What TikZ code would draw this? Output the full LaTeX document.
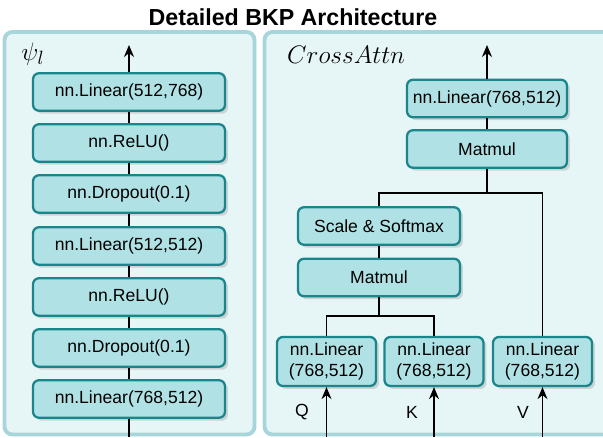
\documentclass[tikz,border=0pt]{standalone}
\usepackage{fontspec}
\setmainfont{Liberation Sans}
\usepackage{tikz}
\usetikzlibrary{arrows.meta, positioning, shadows}
\definecolor{panelFill}{RGB}{230,246,247}
\definecolor{panelLine}{RGB}{168,213,217}
\definecolor{boxFill}{RGB}{176,226,229}
\definecolor{boxLine}{RGB}{26,134,140}

\begin{document}
\begin{tikzpicture}[
  x=0.02cm, y=-0.02cm,
  >={Stealth[length=2.4mm, width=2mm]},
  layer/.style={draw=boxLine, fill=boxFill, line width=1.3pt, rounded corners=1.2mm,
    minimum height=7.5mm, inner sep=1pt, align=center, font=\fontsize{10}{11.5}\selectfont,
    drop shadow={shadow xshift=0.6mm, shadow yshift=-0.6mm, fill=black!30}},
  panel/.style={draw=panelLine, fill=panelFill, line width=2.2pt, rounded corners=1.6mm},
  link/.style={line width=0.85pt}
]
  \useasboundingbox (0,0) rectangle (603,438);
  \node[font=\fontsize{13.2}{15}\selectfont\bfseries] (title) at (293,17) {Detailed BKP Architecture};

  % --- panels ---
  \draw[panel] (4.5,32) rectangle (254.5,434.5);
  \draw[panel] (264.5,32) rectangle (612,434.5);
  \node[font=\fontsize{15}{17}\selectfont] (psiName) at (33,54) {$\psi_l$};
  \node[anchor=base west, font=\fontsize{15}{17}\selectfont] (caName) at (281,64) {$CrossAttn$};

  % --- psi_l: MLP stack ---
  \begin{scope}[every node/.append style={minimum width=3.84cm}]
    \node[layer] (psiOut)  at (129,92)  {nn.Linear(512,768)};
    \node[layer] (psiAct2) at (129,143) {nn.ReLU()};
    \node[layer] (psiDrp2) at (129,194) {nn.Dropout(0.1)};
    \node[layer] (psiMid)  at (129,246) {nn.Linear(512,512)};
    \node[layer] (psiAct1) at (129,297) {nn.ReLU()};
    \node[layer] (psiDrp1) at (129,348) {nn.Dropout(0.1)};
    \node[layer] (psiIn)   at (129,399) {nn.Linear(768,512)};
  \end{scope}
  \coordinate (psiTop) at (129,45);
  \coordinate (psiBot) at (129,437);
  \draw[link, ->] (psiOut.north) -- (psiTop);
  \draw[link] (psiOut.south) -- (psiAct2.north);
  \draw[link] (psiAct2.south) -- (psiDrp2.north);
  \draw[link] (psiDrp2.south) -- (psiMid.north);
  \draw[link] (psiMid.south) -- (psiAct1.north);
  \draw[link] (psiAct1.south) -- (psiDrp1.north);
  \draw[link] (psiDrp1.south) -- (psiIn.north);
  \draw[link] (psiBot) -- (psiIn.south);

  % --- CrossAttn ---
  \node[layer, minimum width=3.2cm]  (caOut)   at (487,98.5) {nn.Linear(768,512)};
  \node[layer, minimum width=3.2cm]  (caMatV)  at (487,149)  {Matmul};
  \node[layer, minimum width=3.24cm] (caSoft)  at (379,226)  {Scale \& Softmax};
  \node[layer, minimum width=3.24cm] (caMatQK) at (379,277.5) {Matmul};
  \node[layer, minimum width=1.98cm, minimum height=9.8mm] (projQ) at (326.5,361.5) {nn.Linear\\(768,512)};
  \node[layer, minimum width=1.98cm, minimum height=9.8mm] (projK) at (434,361.5)   {nn.Linear\\(768,512)};
  \node[layer, minimum width=1.98cm, minimum height=9.8mm] (projV) at (542.5,361.5) {nn.Linear\\(768,512)};

  \coordinate (caTop) at (487,45);
  \coordinate (jV) at (487,193);
  \coordinate (jQK) at (379,316);
  \draw[link, ->] (caOut.north) -- (caTop);
  \draw[link] (caOut.south) -- (caMatV.north);
  \draw[link] (caMatV.south) -- (jV);
  \draw[link] (caSoft.north) |- (jV) -| (projV.north);
  \draw[link] (caSoft.south) -- (caMatQK.north);
  \draw[link] (caMatQK.south) -- (jQK);
  \draw[link] (projQ.north) |- (jQK) -| (projK.north);

  % inputs
  \coordinate (inQ) at (326.5,437);
  \coordinate (inK) at (434,437);
  \coordinate (inV) at (542.5,437);
  \draw[link, ->] (inQ) -- (projQ.south);
  \draw[link, ->] (inK) -- (projK.south);
  \draw[link, ->] (inV) -- (projV.south);
  \node[font=\fontsize{10}{11.5}\selectfont] (lblQ) at (302,412) {Q};
  \node[font=\fontsize{10}{11.5}\selectfont] (lblK) at (412,412) {K};
  \node[font=\fontsize{10}{11.5}\selectfont] (lblV) at (523,412) {V};
\end{tikzpicture}
\end{document}
